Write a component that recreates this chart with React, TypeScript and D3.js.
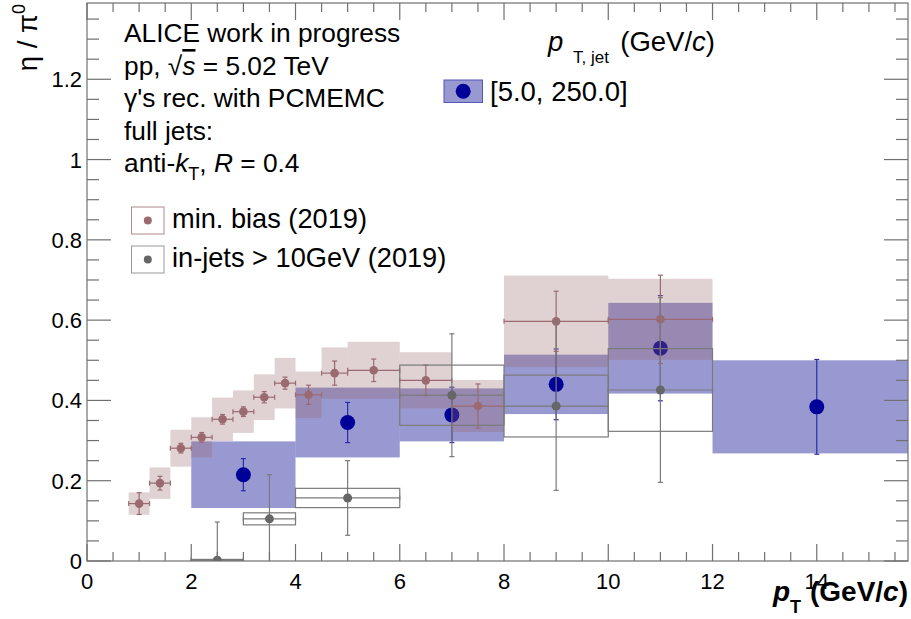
import React from 'react';
import * as d3 from 'd3';

// ---- data ----
// min. bias (2019)
const mbX = [1.0, 1.4, 1.8, 2.2, 2.6, 3.0, 3.4, 3.8, 4.25, 4.75, 5.5, 6.5, 7.5, 9.0, 11.0];
const mbHalf = [0.2, 0.2, 0.2, 0.2, 0.2, 0.2, 0.2, 0.2, 0.25, 0.25, 0.5, 0.5, 0.5, 1.0, 1.0];
const mbY = [0.143, 0.194, 0.281, 0.308, 0.353, 0.372, 0.408, 0.443, 0.414, 0.468, 0.475, 0.45, 0.386, 0.597, 0.602];
const mbStat = [0.027, 0.017, 0.012, 0.012, 0.012, 0.012, 0.014, 0.015, 0.024, 0.03, 0.028, 0.038, 0.055, 0.075, 0.11];
const mbSys = [0.028, 0.039, 0.046, 0.05, 0.054, 0.053, 0.057, 0.063, 0.058, 0.064, 0.071, 0.07, 0.065, 0.114, 0.101];

// in-jets > 10GeV (2019)
const ijX = [2.5, 3.5, 5.0, 7.0, 9.0, 11.0];
const ijHalf = [0.5, 0.5, 1.0, 1.0, 1.0, 1.0];
const ijY = [0.002, 0.105, 0.157, 0.413, 0.386, 0.426];
const ijStat = [0.095, 0.11, 0.093, 0.153, 0.21, 0.23];
const ijSys = [0.002, 0.015, 0.024, 0.075, 0.077, 0.103];

// pT,jet [5.0, 250.0]
const jX = [3.0, 5.0, 7.0, 9.0, 11.0, 14.0];
const jHalf = [1.0, 1.0, 1.0, 1.0, 1.0, 2.0];
const jY = [0.215, 0.345, 0.364, 0.44, 0.53, 0.384];
const jStat = [0.04, 0.05, 0.069, 0.088, 0.131, 0.118];
const jSys = [0.083, 0.087, 0.066, 0.074, 0.113, 0.116];

const xMajorTicks = [0, 2, 4, 6, 8, 10, 12, 14];
const yMajorTicks = [0, 0.2, 0.4, 0.6, 0.8, 1, 1.2];
const yTickLabels = ['0', '0.2', '0.4', '0.6', '0.8', '1', '1.2'];

const W = 911;
const H = 619;
const FONT = '"Liberation Sans", Arial, Helvetica, sans-serif';

const PINK = '#9b6a71';
const GRAY = '#666666';
const BLUE = '#000099';
const FRAME = '#707070';

export default function App() {
  const x = d3.scaleLinear().domain([0, 15.75]).range([87, 908]);
  const y = d3.scaleLinear().domain([0, 1.39]).range([561, 3]);
  const [x0, x1] = x.range();
  const [y0, y1] = y.range();

  const xMinor = d3.range(0, 15.75 + 1e-9, 0.5);
  const yMinor = d3.range(0, 1.39 + 1e-9, 0.05);
  const isMajX = (v: number) => Math.abs(v / 2 - Math.round(v / 2)) < 1e-6;
  const isMajY = (v: number) => Math.abs(v / 0.2 - Math.round(v / 0.2)) < 1e-6;

  const cap = 2.5;

  const errBar = (cx: number, cy: number, lo: number, hi: number, color: string, key: string, xl?: number, xh?: number) => (
    <g key={key} stroke={color} strokeWidth={1.2}>
      <line x1={cx} x2={cx} y1={lo} y2={hi} />
      <line x1={cx - cap} x2={cx + cap} y1={lo} y2={lo} />
      <line x1={cx - cap} x2={cx + cap} y1={hi} y2={hi} />
      {xl !== undefined && xh !== undefined && (
        <>
          <line x1={xl} x2={xh} y1={cy} y2={cy} />
          <line x1={xl} x2={xl} y1={cy - cap} y2={cy + cap} />
          <line x1={xh} x2={xh} y1={cy - cap} y2={cy + cap} />
        </>
      )}
    </g>
  );

  return (
    <svg width={W} height={H} style={{ position: 'fixed', left: 0, top: 0, background: '#fff' }} fontFamily={FONT}>
      <defs>
        <clipPath id="plotclip">
          <rect x={x0} y={y1} width={x1 - x0} height={y0 - y1} />
        </clipPath>
      </defs>
      <rect x={0} y={0} width={W} height={H} fill="#fff" />

      <g clipPath="url(#plotclip)">
        {/* jet-series systematic boxes */}
        {jX.map((v, i) => (
          <rect key={'jb' + i} x={x(v - jHalf[i])} width={x(v + jHalf[i]) - x(v - jHalf[i])}
            y={y(jY[i] + jSys[i])} height={y(jY[i] - jSys[i]) - y(jY[i] + jSys[i])}
            fill="#00008b" fillOpacity={0.4} />
        ))}
        {jX.map((v, i) => errBar(x(v), y(jY[i]), y(jY[i] - jStat[i]), y(jY[i] + jStat[i]), '#2a2aa8', 'je' + i))}
        {jX.map((v, i) => (
          <circle key={'jp' + i} cx={x(v)} cy={y(jY[i])} r={7.5} fill={BLUE} />
        ))}

        {/* min bias boxes */}
        {mbX.map((v, i) => (
          <rect key={'mb' + i} x={x(v - mbHalf[i])} width={x(v + mbHalf[i]) - x(v - mbHalf[i])}
            y={y(mbY[i] + mbSys[i])} height={y(mbY[i] - mbSys[i]) - y(mbY[i] + mbSys[i])}
            fill="#99666e" fillOpacity={0.3} />
        ))}
        {mbX.map((v, i) => errBar(x(v), y(mbY[i]), y(mbY[i] - mbStat[i]), y(mbY[i] + mbStat[i]), PINK, 'me' + i,
          x(v - mbHalf[i]), x(v + mbHalf[i])))}
        {mbX.map((v, i) => (
          <circle key={'mp' + i} cx={x(v)} cy={y(mbY[i])} r={4.3} fill={PINK} />
        ))}

        {/* in-jets boxes */}
        {ijX.map((v, i) => (
          <rect key={'ib' + i} x={x(v - ijHalf[i])} width={x(v + ijHalf[i]) - x(v - ijHalf[i])}
            y={y(ijY[i] + ijSys[i])} height={Math.max(1, y(ijY[i] - ijSys[i]) - y(ijY[i] + ijSys[i]))}
            fill="none" stroke="#7a7a7a" strokeWidth={1.2} />
        ))}
        {ijX.map((v, i) => errBar(x(v), y(ijY[i]), y(ijY[i] - ijStat[i]), y(ijY[i] + ijStat[i]), '#7a7a7a', 'ie' + i,
          x(v - ijHalf[i]), x(v + ijHalf[i])))}
        {ijX.map((v, i) => (
          <circle key={'ip' + i} cx={x(v)} cy={y(ijY[i])} r={4.5} fill={GRAY} />
        ))}
      </g>

      {/* frame */}
      <rect x={x0} y={y1} width={x1 - x0} height={y0 - y1} fill="none" stroke={FRAME} strokeWidth={1.2} />

      {/* x ticks */}
      {xMinor.map((v, i) => {
        const len = isMajX(v) ? 17 : 9;
        return (
          <g key={'xt' + i} stroke={FRAME} strokeWidth={1.2}>
            <line x1={x(v)} x2={x(v)} y1={y0} y2={y0 - len} />
            <line x1={x(v)} x2={x(v)} y1={y1} y2={y1 + len} />
          </g>
        );
      })}
      {/* y ticks */}
      {yMinor.map((v, i) => {
        const len = isMajY(v) ? 24 : 12;
        return (
          <g key={'yt' + i} stroke={FRAME} strokeWidth={1.2}>
            <line x1={x0} x2={x0 + len} y1={y(v)} y2={y(v)} />
            <line x1={x1} x2={x1 - len} y1={y(v)} y2={y(v)} />
          </g>
        );
      })}

      {/* tick labels */}
      {xMajorTicks.map((v) => (
        <text key={'xl' + v} x={x(v)} y={589} fontSize={22} textAnchor="middle" fill="#000">{v}</text>
      ))}
      {yMajorTicks.map((v, i) => (
        <text key={'yl' + v} x={82} y={y(v) + 8} fontSize={22} textAnchor="end" fill="#000">{yTickLabels[i]}</text>
      ))}

      {/* x axis title */}
      <text x={773} y={601} fontSize={28} fontWeight="bold" fontStyle="italic" fill="#000">p</text>
      <text x={790} y={613} fontSize={18} fontWeight="bold" fill="#000">T</text>
      <text x={908} y={601} fontSize={28} fontWeight="bold" textAnchor="end" fill="#000">
        <tspan>(GeV/</tspan>
        <tspan fontStyle="italic">c</tspan>
        <tspan>)</tspan>
      </text>

      {/* y axis title */}
      <text transform="translate(37,4) rotate(-90)" fontSize={27.5} textAnchor="end" fill="#000">
        <tspan>η / π</tspan>
        <tspan fontSize={18} dy={-12}>0</tspan>
      </text>

      {/* info text */}
      <g fontSize={26.3} fill="#000">
        <text x={124} y={42}>ALICE work in progress</text>
        <text x={124} y={75}>
          <tspan>pp,  √</tspan>
          <tspan fontStyle="italic" style={{ textDecoration: 'overline' }}>s</tspan>
          <tspan> = 5.02 TeV</tspan>
        </text>
        <text x={124} y={107}>γ's rec. with PCMEMC</text>
        <text x={124} y={140}>full jets:</text>
        <text x={124} y={172}>
          <tspan>anti-</tspan>
          <tspan fontStyle="italic">k</tspan>
          <tspan fontSize={18} dy={8}>T</tspan>
          <tspan dy={-8}>, </tspan>
          <tspan fontStyle="italic">R</tspan>
          <tspan> = 0.4</tspan>
        </text>
      </g>

      {/* legend min bias / in-jets */}
      <rect x={131.5} y={207} width={32.5} height={27} fill="#fff" stroke="#b08a90" strokeWidth={1} />
      <circle cx={147.8} cy={220.5} r={4} fill={PINK} />
      <rect x={131.5} y={246} width={32.5} height={27} fill="#fff" stroke="#999" strokeWidth={1} />
      <circle cx={147.8} cy={259.5} r={4} fill={GRAY} />
      <text x={172} y={228} fontSize={27.2} fill="#000">min. bias (2019)</text>
      <text x={172} y={267} fontSize={27.2} fill="#000">in-jets &gt; 10GeV (2019)</text>

      {/* legend jets */}
      <text x={548} y={51} fontSize={27.5} fontStyle="italic" fill="#000">p</text>
      <text x={573} y={63} fontSize={17} fill="#000">T, jet</text>
      <text x={715} y={51} fontSize={27.5} textAnchor="end" fill="#000">
        <tspan>(GeV/</tspan>
        <tspan fontStyle="italic">c</tspan>
        <tspan>)</tspan>
      </text>
      <rect x={444} y={80} width={38.5} height={22.5} fill="#00008b" fillOpacity={0.4} stroke="#5555bb" strokeWidth={1} />
      <circle cx={463.2} cy={91.2} r={7.5} fill={BLUE} />
      <text x={490} y={101} fontSize={27.5} fill="#000">[5.0, 250.0]</text>
    </svg>
  );
}
